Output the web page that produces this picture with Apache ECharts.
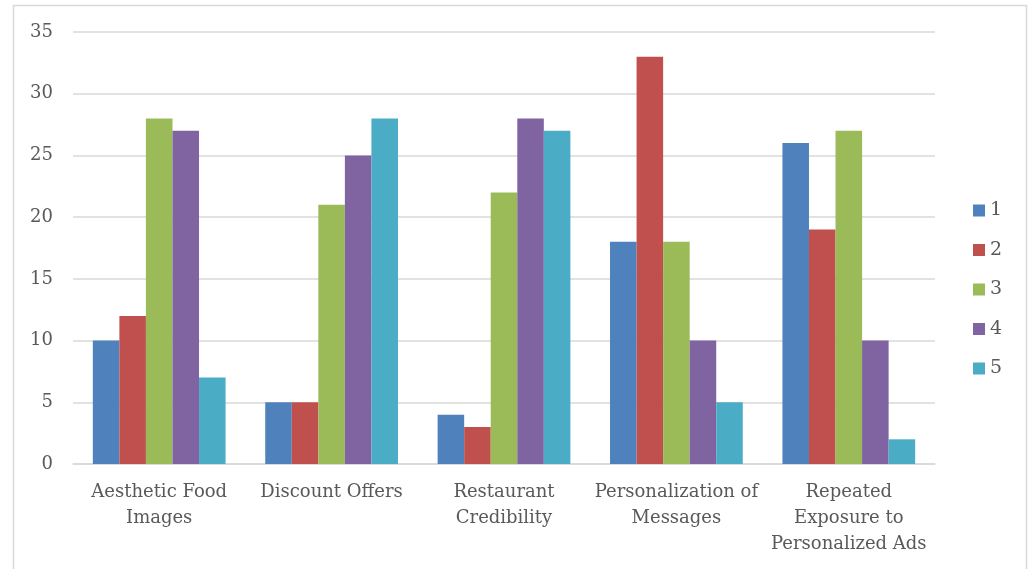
<!DOCTYPE html>
<html>
<head>
<meta charset="utf-8">
<script src="https://cdn.jsdelivr.net/npm/echarts@6/dist/echarts.min.js"></script>
<style>
  html, body { margin: 0; padding: 0; background: #fff; }
  #chart { width: 1031px; height: 569px; }
</style>
</head>
<body>
<div id="chart"></div>
<script>
const categories = [
  'Aesthetic Food\nImages',
  'Discount Offers',
  'Restaurant\nCredibility',
  'Personalization of\nMessages',
  'Repeated\nExposure to\nPersonalized Ads',
];
const seriesNames = ['1', '2', '3', '4', '5'];
const values1 = [10, 5, 4, 18, 26];
const values2 = [12, 5, 3, 33, 19];
const values3 = [28, 21, 22, 18, 27];
const values4 = [27, 25, 28, 10, 10];
const values5 = [7, 28, 27, 5, 2];
const colors = ['#4F81BD', '#C0504D', '#9BBB59', '#8064A2', '#4BACC6'];

const chart = echarts.init(document.getElementById('chart'));
const font = 'DejaVu Serif';
const allValues = [values1, values2, values3, values4, values5];

const option = {
  animation: false,
  textStyle: { fontFamily: font },
  graphic: [
    {
      type: 'rect',
      shape: { x: 13.5, y: 5.5, width: 1013, height: 600 },
      style: { fill: 'none', stroke: '#d9d9d9', lineWidth: 1.5 },
      silent: true,
    },
  ],
  legend: {
    orient: 'vertical',
    left: 968,
    top: 196,
    itemWidth: 12,
    itemHeight: 12,
    itemGap: 20.5,
    icon: 'rect',
    textStyle: { color: '#595959', fontSize: 19, fontFamily: font },
    data: seriesNames,
  },
  grid: {
    left: 73,
    right: 96,
    top: 32,
    bottom: 105,
    containLabel: false,
  },
  xAxis: {
    type: 'category',
    data: categories,
    axisLine: { lineStyle: { color: '#d9d9d9', width: 1.5 } },
    axisTick: { show: false },
    axisLabel: {
      color: '#595959',
      fontSize: 18,
      fontFamily: font,
      lineHeight: 26,
      margin: 15,
      interval: 0,
    },
  },
  yAxis: {
    type: 'value',
    min: 0,
    max: 35,
    interval: 5,
    axisLine: { show: false },
    axisTick: { show: false },
    axisLabel: { color: '#595959', fontSize: 18, fontFamily: font, margin: 20 },
    splitLine: { lineStyle: { color: '#d9d9d9', width: 1.5 } },
  },
  series: seriesNames.map((name, i) => ({
    name: name,
    type: 'bar',
    data: allValues[i],
    barGap: '0%',
    barCategoryGap: '23%',
    itemStyle: { color: colors[i] },
  })),
};

chart.setOption(option);
</script>
</body>
</html>
